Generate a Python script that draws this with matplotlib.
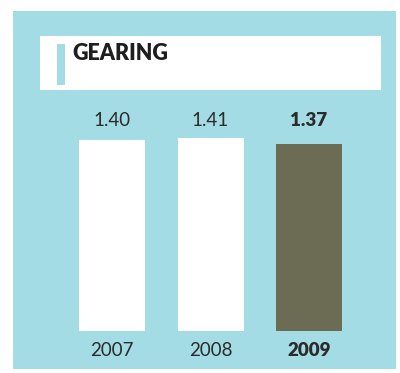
import numpy as np
import matplotlib.pyplot as plt
from matplotlib.patches import Rectangle

years = ['2007', '2008', '2009']
gearing = [1.40, 1.41, 1.37]
value_labels = ['1.40', '1.41', '1.37']
highlight = [False, False, True]

cyan = '#a3dce4'
olive = '#6b6c53'
ink = '#2b2b2b'

plt.rcParams['font.family'] = ['Lato', 'DejaVu Sans']

W, H = 400, 373
fig = plt.figure(figsize=(W / 100, H / 100), dpi=100)
fig.patch.set_facecolor('white')


def px_box(x0, y0, x1, y1):
    # pixel box (top-left origin) -> figure fraction rectangle
    return (x0 / W, 1 - y1 / H, (x1 - x0) / W, (y1 - y0) / H)


def add_rect(box, color, z):
    l, b, w, h = px_box(*box)
    fig.patches.append(Rectangle((l, b), w, h, transform=fig.transFigure,
                                 facecolor=color, edgecolor='none', zorder=z))


add_rect((13, 11, 396, 369), cyan, 0)      # panel background
add_rect((40, 36, 381, 90), 'white', 1)    # title strip
add_rect((57, 44, 65, 85), cyan, 2)        # accent mark
fig.text(72 / W, 1 - 54 / H, 'GEARING', fontsize=15.5, fontweight='heavy', color='#1e1e1e',
         ha='left', va='center', zorder=3)

# bar area: baseline at y=331px, 136.6 px per unit
ax = fig.add_axes(px_box(13, 11, 395, 331))
ax.set_zorder(5)
ax.patch.set_alpha(0)
x = np.arange(len(years))
colors = [olive if h else 'white' for h in highlight]
ax.bar(x, gearing, width=0.67, color=colors, zorder=2)
ax.set_xlim(-1.005, 2.873)
ax.set_ylim(0, 320 / 136.6)
ax.axis('off')

label_y = 211 / 136.6
year_y = -20 / 136.6
for i in range(len(years)):
    weight = 'heavy' if highlight[i] else 'normal'
    ax.text(x[i], label_y, value_labels[i], ha='center', va='center', fontsize=13.5,
            color=ink, fontweight=weight)
    ax.text(x[i], year_y, years[i], ha='center', va='center', fontsize=13.5,
            color=ink, fontweight=weight, clip_on=False)

fig.savefig('out.png', dpi=100)
